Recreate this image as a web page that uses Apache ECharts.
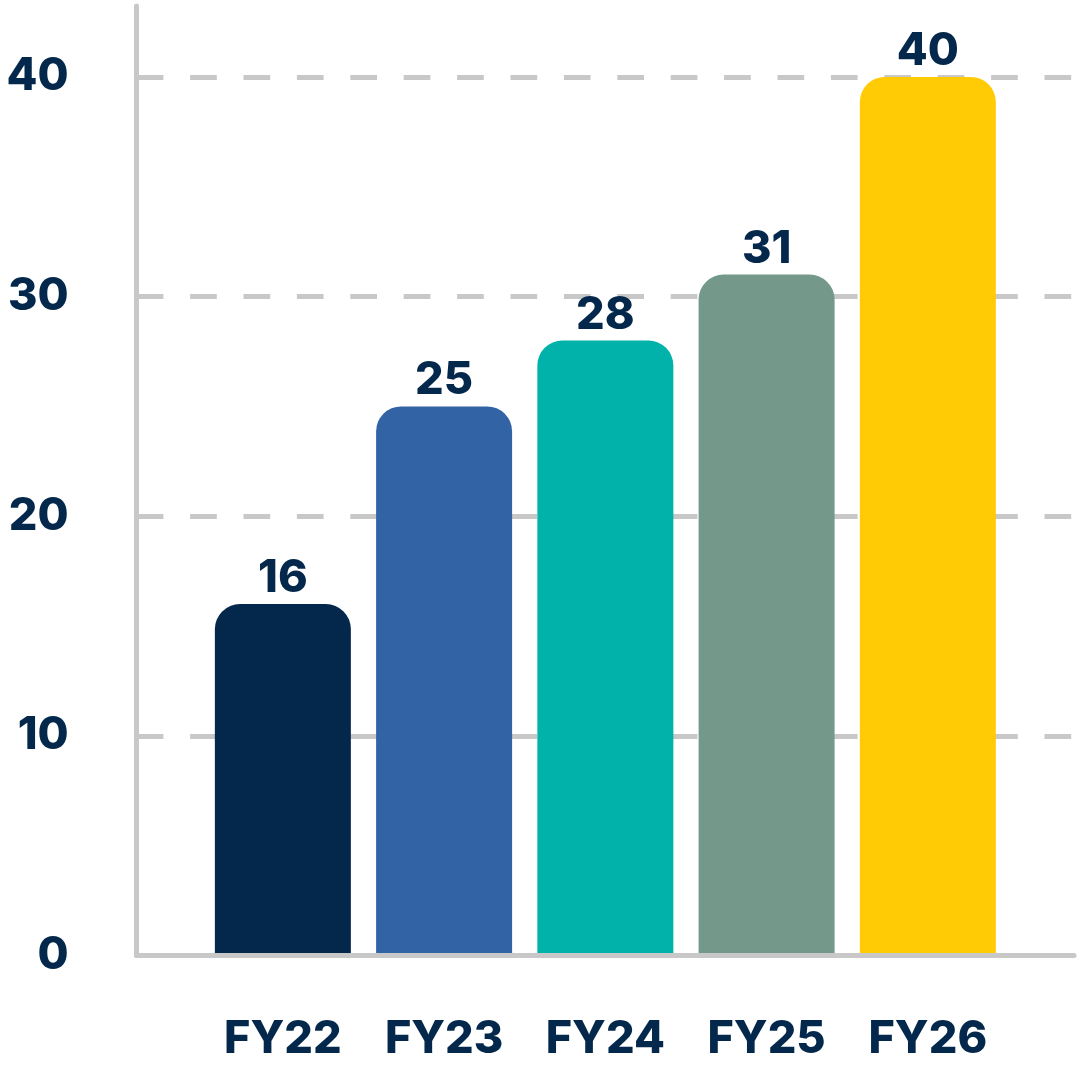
<!DOCTYPE html>
<html>
<head>
<meta charset="utf-8">
<title>FY bars</title>
<script src="https://cdn.jsdelivr.net/npm/echarts@6/dist/echarts.min.js"></script>
<style>
    html, body {margin: 0; padding: 0; background: #fff;}
    #chart {width: 1080px; height: 1080px;}
</style>
</head>
<body>
<div id="chart"></div>
<script>
	// data
	var categories = ['FY22', 'FY23', 'FY24', 'FY25', 'FY26'];
	var values = [16, 25, 28, 31, 40];
	var barColors = ['#03284B', '#3264A5', '#00B2AA', '#749889', '#FFCB05'];
	var yTicks = [0, 10, 20, 30, 40];

	var textColor = '#03284B';
	var gridColor = '#c8c8c8';
	var font = 'Inter';

	// categories sit at 1..n on a value axis so the axis line can run past them
	var positions = categories.map(function (c, i) { return i + 1; });
	var barData = values.map(function (v, i) {
		return {
			value: [positions[i], v],
			itemStyle: {color: barColors[i]}
		};
	});

	var chart = echarts.init(document.getElementById('chart'));
	var option = {
		animation: false,
		grid: {
			left: 136.7,
			right: 6,
			top: 6,
			bottom: 124.5,
			containLabel: false
		},
		xAxis: {
			type: 'value',
			min: 0.0935,
			max: 5.9065,
			z: 5,
			axisLine: {
				show: true,
				lineStyle: {color: gridColor, width: 5}
			},
			axisTick: {show: false},
			splitLine: {show: false},
			axisLabel: {
				customValues: positions,
				margin: 61,
				color: textColor,
				fontFamily: font,
				fontWeight: 800,
				fontSize: 45,
				formatter: function (v) {
					return categories[Math.round(v) - 1] || '';
				}
			}
		},
		yAxis: {
			type: 'value',
			min: yTicks[0],
			max: 43.23,
			interval: 10,
			axisLine: {
				show: true,
				lineStyle: {color: gridColor, width: 5}
			},
			axisTick: {show: false},
			axisLabel: {
				showMaxLabel: false,
				margin: 68,
				color: textColor,
				fontFamily: font,
				fontWeight: 800,
				fontSize: 45
			},
			splitLine: {
				show: true,
				showMaxLine: false,
				lineStyle: {
					color: gridColor,
					width: 5,
					type: [26.7, 26.7],
					dashOffset: 0
				}
			}
		},
		series: [{
			type: 'bar',
			data: barData,
			barWidth: 136,
			itemStyle: {
				borderRadius: [25, 25, 0, 0]
			},
			label: {
				show: true,
				position: 'top',
				distance: 3,
				color: textColor,
				fontFamily: font,
				fontWeight: 800,
				fontSize: 45,
				formatter: function (p) { return p.value[1]; }
			}
		}]
	};
	chart.setOption(option);
</script>
</body>
</html>
